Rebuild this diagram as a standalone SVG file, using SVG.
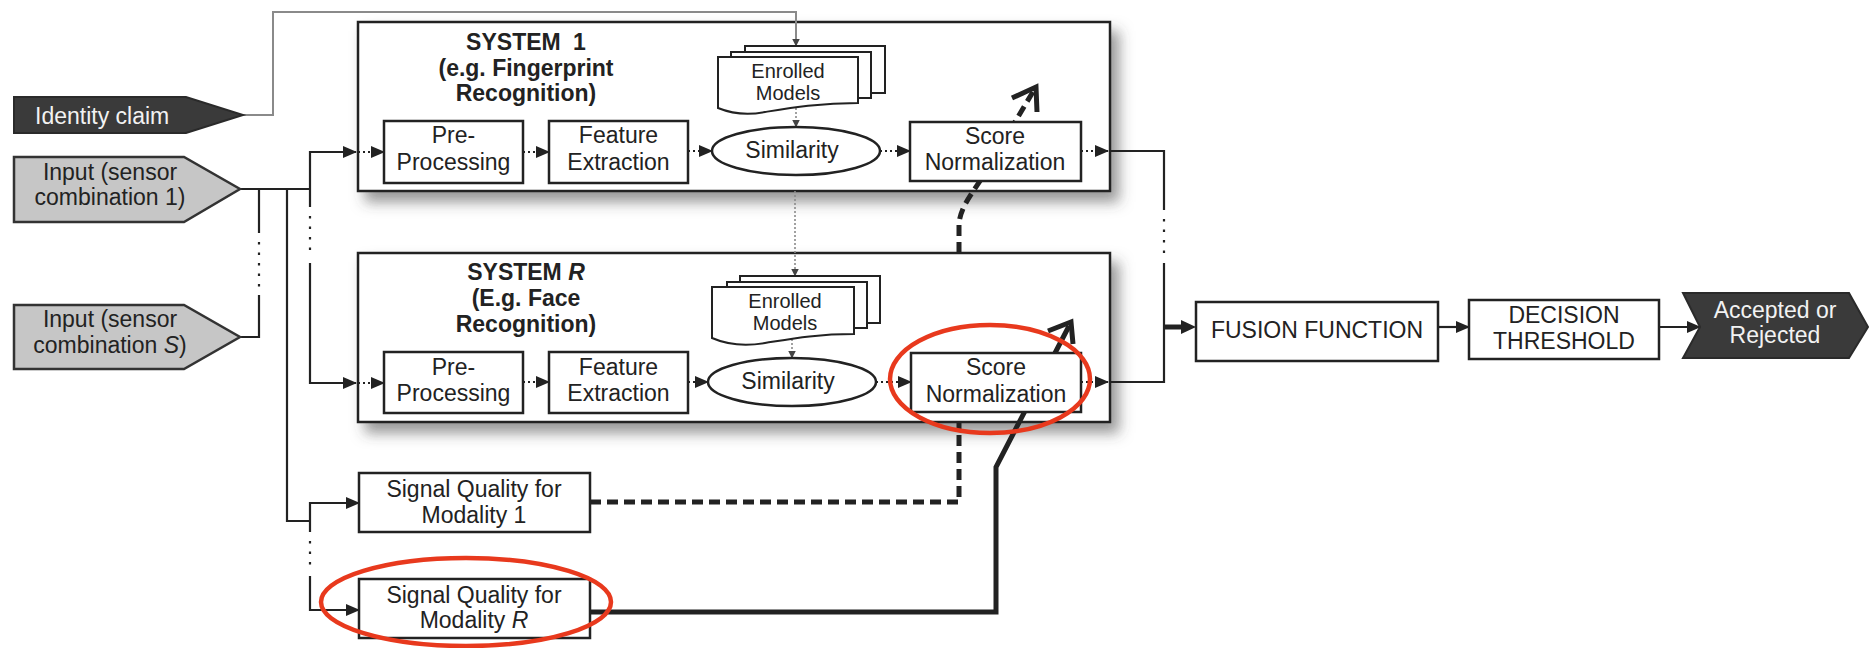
<svg xmlns="http://www.w3.org/2000/svg" width="1870" height="648" viewBox="0 0 1870 648">
<defs>
<style>
text { font-family: "Liberation Sans", Arial, sans-serif; font-size: 23px; fill: #222; text-anchor: middle; }
.b { font-weight: bold; }
.sm { font-size: 20px; }
.lt { fill: #f2f2f2; }
.box { fill: #fff; stroke: #222; stroke-width: 2.5; }
.sys { fill: #fff; stroke: #222; stroke-width: 2.5; }
.inp { fill: #c6c6c6; stroke: #333; stroke-width: 2.5; }
.dark { fill: #3a3a3a; stroke: #2a2a2a; stroke-width: 2; }
.ln { fill: none; stroke: #222; stroke-width: 2.2; }
.dot { fill: none; stroke: #222; stroke-width: 2.2; stroke-dasharray: 2 3; }
.vdot { fill: none; stroke: #222; stroke-width: 2.2; stroke-dasharray: 2.5 8; }
.gray { fill: none; stroke: #8a8a8a; stroke-width: 2; }
.gdot { fill: none; stroke: #8a8a8a; stroke-width: 1.6; stroke-dasharray: 2 2; }
.thick { fill: none; stroke: #222; stroke-width: 5; stroke-linejoin: miter; }
.dash { fill: none; stroke: #222; stroke-width: 5; stroke-dasharray: 11 6; }
.red { fill: none; stroke: #e8391d; stroke-width: 4.5; }
</style>
<marker id="ah" markerUnits="userSpaceOnUse" markerWidth="14" markerHeight="12" refX="13" refY="6" orient="auto"><path d="M0,0 L14,6 L0,12 Z" fill="#222"/></marker>
<marker id="ahb" markerUnits="userSpaceOnUse" markerWidth="15" markerHeight="14" refX="1" refY="7" orient="auto"><path d="M0,0 L15,7 L0,14 Z" fill="#222"/></marker>
<marker id="sah" markerUnits="userSpaceOnUse" markerWidth="8" markerHeight="8" refX="7.5" refY="4" orient="auto"><path d="M0,0 L8,4 L0,8 Z" fill="#444"/></marker>
<filter id="shadow" x="-5%" y="-10%" width="115%" height="140%"><feDropShadow dx="8" dy="10" stdDeviation="7" flood-color="#444" flood-opacity="0.55"/></filter>
</defs>
<rect width="1870" height="648" fill="#fff"/>

<g id="system-1"><rect class="sys" x="358" y="22" width="752" height="169" filter="url(#shadow)"/>
<text class="b" x="526" y="50">SYSTEM <tspan dx="6">1</tspan></text>
<text class="b" x="526" y="76">(e.g. Fingerprint</text>
<text class="b" x="526" y="101">Recognition)</text></g>
<g id="system-r"><rect class="sys" x="358" y="253" width="752" height="169" filter="url(#shadow)"/>
<text class="b" x="526" y="280">SYSTEM <tspan font-style="italic">R</tspan></text>
<text class="b" x="526" y="306">(E.g. Face</text>
<text class="b" x="526" y="332">Recognition)</text></g>

<g id="connectors">
<path class="gray" d="M243,115 H273 V12 H796 V46" marker-end="url(#sah)"/>
<path class="gdot" d="M796,108 V127" marker-end="url(#sah)"/>
<path class="gdot" d="M795,191 V276" marker-end="url(#sah)"/>
<path class="gdot" d="M792,339 V358" marker-end="url(#sah)"/>
<path class="ln" d="M240,189 H310"/>
<path class="ln" d="M310,207 V152 H356" marker-end="url(#ah)"/>
<path class="vdot" d="M310,216 V256"/>
<path class="ln" d="M310,263 V383 H356" marker-end="url(#ah)"/>
<path class="ln" d="M259,189 V233"/>
<path class="vdot" d="M259,242 V288"/>
<path class="ln" d="M259,295 V337 H240"/>
<path class="ln" d="M287,189 V521 H310"/>
<path class="ln" d="M310,532 V503 H359" marker-end="url(#ah)"/>
<path class="vdot" d="M310,541 V570"/>
<path class="ln" d="M310,576 V610 H359" marker-end="url(#ah)"/>
<path class="dot" d="M358,152 H384" marker-end="url(#ah)"/>
<path class="dot" d="M523,152 H549" marker-end="url(#ah)"/>
<path class="dot" d="M688,151 H712" marker-end="url(#ah)"/>
<path class="dot" d="M880,151 H910" marker-end="url(#ah)"/>
<path class="dot" d="M1081,151 H1108" marker-end="url(#ah)"/>
<path class="dot" d="M358,383 H384" marker-end="url(#ah)"/>
<path class="dot" d="M523,382 H549" marker-end="url(#ah)"/>
<path class="dot" d="M688,382 H708" marker-end="url(#ah)"/>
<path class="dot" d="M876,382 H911" marker-end="url(#ah)"/>
<path class="dot" d="M1081,382 H1108" marker-end="url(#ah)"/>
<path class="ln" d="M1110,151 H1164 V210"/>
<path class="vdot" d="M1164,219 V256"/>
<path class="ln" d="M1164,263 V382 H1110"/>
<path class="thick" d="M1164,327 H1182" marker-end="url(#ahb)"/>
<path class="ln" d="M1438,327 H1469" marker-end="url(#ah)"/>
<path class="ln" d="M1659,327 H1700" marker-end="url(#ah)"/>
<path class="dash" d="M590,502 H959 V422"/>
<path class="dash" d="M959,253 V226 C959,210 970,196 980,181 L1034,90"/>
<path class="thick" d="M1012,98 L1036,87 L1037,112"/>
<path class="thick" d="M590,612 H996 V467 L1069,326"/>
<path class="thick" d="M1048,331 L1071,322 L1073,344"/>
</g>

<g id="identity-claim"><path class="dark" d="M14,97 H186 L243,115 L186,133 H14 Z"/><text class="lt" x="35" y="124" style="text-anchor:start">Identity claim</text></g>
<g id="input-1"><path class="inp" d="M14,157 H184 L240,189 L184,222 H14 Z"/><text x="110" y="180">Input (sensor</text><text x="110" y="205">combination 1)</text></g>
<g id="input-s"><path class="inp" d="M14,305 H184 L240,337 L184,369 H14 Z"/><text x="110" y="327">Input (sensor</text><text x="110" y="353">combination <tspan font-style="italic">S</tspan>)</text></g>

<g id="preproc-1"><rect class="box" x="384" y="121" width="139" height="62"/><text x="453.5" y="143">Pre-</text><text x="453.5" y="170">Processing</text></g>
<g id="feature-1"><rect class="box" x="549" y="121" width="139" height="62"/><text x="618.5" y="143">Feature</text><text x="618.5" y="170">Extraction</text></g>
<g id="enrolled-1"><rect class="box" x="745" y="46" width="140" height="47" style="stroke-width:2"/><rect class="box" x="731" y="52" width="140" height="46" style="stroke-width:2"/><path class="box" style="stroke-width:2" d="M718,57 H858 V103 C820,103 790,108 765,112 Q740,117 718,108 Z"/><text class="sm" x="788" y="78">Enrolled</text><text class="sm" x="788" y="100">Models</text></g>
<g id="similarity-1"><ellipse class="box" cx="796" cy="151" rx="84" ry="24"/><text x="792" y="158">Similarity</text></g>
<g id="score-1"><rect class="box" x="910" y="122" width="171" height="59"/><text x="995" y="144">Score</text><text x="995" y="170">Normalization</text></g>

<g id="preproc-r"><rect class="box" x="384" y="352" width="139" height="61"/><text x="453.5" y="375">Pre-</text><text x="453.5" y="401">Processing</text></g>
<g id="feature-r"><rect class="box" x="549" y="352" width="139" height="61"/><text x="618.5" y="375">Feature</text><text x="618.5" y="401">Extraction</text></g>
<g id="enrolled-r"><rect class="box" x="740" y="276" width="140" height="47" style="stroke-width:2"/><rect class="box" x="727" y="282" width="140" height="46" style="stroke-width:2"/><path class="box" style="stroke-width:2" d="M712,287 H854 V334 C815,334 790,339 765,343 Q735,348 712,338 Z"/><text class="sm" x="785" y="308">Enrolled</text><text class="sm" x="785" y="330">Models</text></g>
<g id="similarity-r"><ellipse class="box" cx="792" cy="382" rx="84" ry="24"/><text x="788" y="389">Similarity</text></g>
<g id="score-r"><rect class="box" x="911" y="353" width="170" height="59"/><text x="996" y="375">Score</text><text x="996" y="402">Normalization</text></g>

<g id="quality-1"><rect class="box" x="359" y="473" width="231" height="59"/><text x="474" y="497">Signal Quality for</text><text x="474" y="523">Modality 1</text></g>
<g id="quality-r"><rect class="box" x="359" y="579" width="231" height="59"/><text x="474" y="603">Signal Quality for</text><text x="474" y="628">Modality <tspan font-style="italic">R</tspan></text></g>

<g id="fusion"><rect class="box" x="1196" y="302" width="242" height="59"/><text x="1317" y="338">FUSION FUNCTION</text></g>
<g id="decision"><rect class="box" x="1469" y="300" width="190" height="59"/><text x="1564" y="323">DECISION</text><text x="1564" y="349">THRESHOLD</text></g>
<g id="accepted"><path class="dark" d="M1683,293 H1849 L1868,327 L1849,358 H1683 L1700,327 Z"/><text class="lt" x="1775" y="318">Accepted or</text><text class="lt" x="1775" y="343">Rejected</text></g>

<g id="highlights"><ellipse class="red" cx="466" cy="602" rx="145" ry="44"/><ellipse class="red" cx="990" cy="379" rx="100" ry="54"/></g>
</svg>
